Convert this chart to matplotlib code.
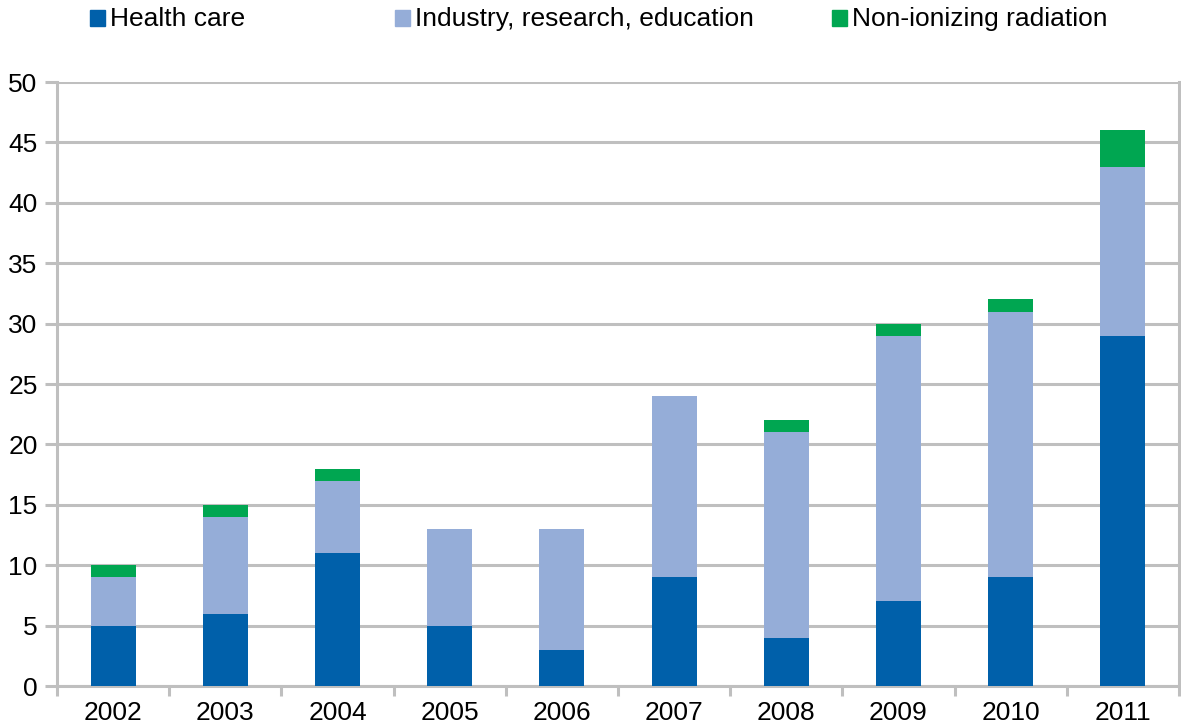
import matplotlib
matplotlib.use("Agg")
import matplotlib.pyplot as plt
from matplotlib.patches import Rectangle
import numpy as np

plt.rcParams['font.family'] = ['Liberation Sans', 'DejaVu Sans']

years = ["2002", "2003", "2004", "2005", "2006", "2007", "2008", "2009", "2010", "2011"]
health_care = [5, 6, 11, 5, 3, 9, 4, 7, 9, 29]
industry_research_education = [4, 8, 6, 8, 10, 15, 17, 22, 22, 14]
non_ionizing = [1, 1, 1, 0, 0, 0, 1, 1, 1, 3]
series_names = ["Health care", "Industry, research, education", "Non-ionizing radiation"]
colors = ["#0060AA", "#95ADD8", "#00A651"]

W, H = 1181, 727
fig = plt.figure(figsize=(W / 100, H / 100), dpi=100)
ax = fig.add_axes([57 / W, 1 - 686 / H, (1179 - 57) / W, (686 - 82) / H])

x = np.arange(len(years))
bottom = np.zeros(len(years))
for vals, c in zip([health_care, industry_research_education, non_ionizing], colors):
    ax.bar(x, vals, width=0.4, bottom=bottom, color=c, zorder=3)
    bottom += np.array(vals)

grid_c = "#BFBFBF"
ax.set_xlim(-0.5, len(years) - 0.5)
ax.set_ylim(0, 50)
ax.set_yticks(range(0, 51, 5))
ax.yaxis.grid(True, color=grid_c, linewidth=2.2, zorder=0)
ax.set_axisbelow(True)

for side in ["left", "right", "bottom"]:
    ax.spines[side].set_color(grid_c)
    ax.spines[side].set_linewidth(2.2)
ax.spines["top"].set_visible(False)

ax.tick_params(axis="y", length=9, width=2.2, color=grid_c, labelsize=19, pad=5)
ax.set_xticks(x)
ax.set_xticklabels(years)
ax.tick_params(axis="x", length=0, labelsize=19, pad=11)
ax.set_xticks(np.arange(-0.5, len(years)), minor=True)
ax.tick_params(axis="x", which="minor", length=7, width=2.2, color=grid_c)

# legend row across the top
legend_x = [90, 395, 832]
for lx, name, c in zip(legend_x, series_names, colors):
    fig.patches.append(Rectangle((lx / W, 1 - 26 / H), 15 / W, 16 / H,
                                 transform=fig.transFigure, color=c))
    fig.text((lx + 20) / W, 1 - 19 / H, name, fontsize=19, va="center", ha="left")

fig.savefig("out.png", dpi=100)
